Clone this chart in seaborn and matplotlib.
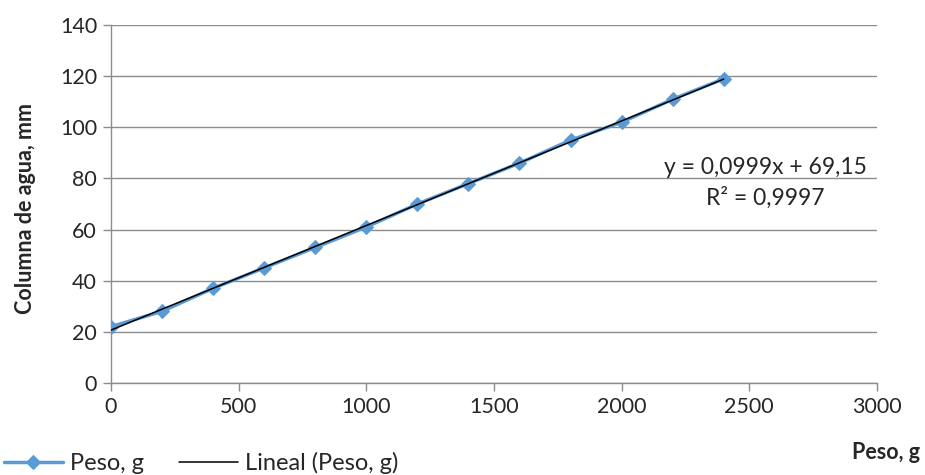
import matplotlib
matplotlib.use("Agg")
import matplotlib.pyplot as plt
import seaborn as sns
import numpy as np

# data
peso_g = [0, 200, 400, 600, 800, 1000, 1200, 1400, 1600, 1800, 2000, 2200, 2400]
columna_mm = [22, 28, 37, 45, 53, 61, 70, 78, 86, 95, 102, 111, 119]
eq_line = "y = 0,0999x + 69,15"
r2_line = "R² = 0,9997"

sns.set_style("white")
plt.rcParams['font.family'] = ['Lato', 'DejaVu Sans']

fig = plt.figure(figsize=(9.25, 4.75), dpi=100)
ax = fig.add_axes([0.12, 0.194, 0.828, 0.753])

blue = '#5B9BD5'
grid_c = '#8C8C8C'

# series with diamond markers
sns.lineplot(x=peso_g, y=columna_mm, ax=ax, color=blue, lw=2.5, marker='D',
             markersize=7, markeredgecolor=blue, label='Peso, g', zorder=3)

# linear trendline
sns.regplot(x=np.array(peso_g), y=np.array(columna_mm), ax=ax, scatter=False, ci=None,
            color='black', label='Lineal (Peso, g)', line_kws={'lw': 1.1, 'zorder': 4})

ax.set_xlim(0, 3000)
ax.set_ylim(0, 140)
ax.set_xticks(range(0, 3001, 500))
ax.set_yticks(range(0, 141, 20))
ax.yaxis.grid(True, color=grid_c, lw=1)
ax.set_axisbelow(True)
for s in ['top', 'right']:
    ax.spines[s].set_visible(False)
for s in ['left', 'bottom']:
    ax.spines[s].set_color(grid_c)
    ax.spines[s].set_linewidth(1)
ax.tick_params(axis='both', which='major', labelsize=15.5, length=6, width=1,
               color=grid_c, direction='out', bottom=True, left=True, pad=4)

ax.set_xlabel('')
ax.set_ylabel('')
fig.text(0.028, 0.56, 'Columna de agua, mm', rotation=90, ha='center', va='center',
         fontsize=15.5, fontweight='bold')
fig.text(0.995, 0.048, 'Peso, g', ha='right', va='center', fontsize=15.5, fontweight='bold')

# trendline equation, as printed on the original chart
ax.text(0.854, 0.603, eq_line, transform=ax.transAxes, ha='center', va='center', fontsize=16.5)
ax.text(0.854, 0.517, r2_line, transform=ax.transAxes, ha='center', va='center', fontsize=16.5)

ax.get_legend().remove()
handles, labels = ax.get_legend_handles_labels()
fig.legend(handles, labels, loc='center left', bbox_to_anchor=(0.004, 0.025), ncol=2,
           frameon=False, fontsize=17, handlelength=2.5, columnspacing=1.5,
           handletextpad=0.3, borderaxespad=0, borderpad=0)

fig.savefig('out.png', dpi=100)
